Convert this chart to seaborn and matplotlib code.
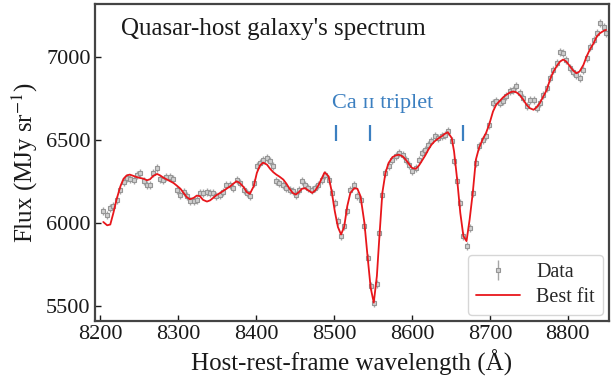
import numpy as np
import pandas as pd
import matplotlib
matplotlib.use("Agg")
import matplotlib.pyplot as plt
import seaborn as sns

# Observed spectrum (host rest frame) and best-fit model sampled on the same grid
wavelength = [
    8204, 8209, 8213, 8217, 8221, 8226, 8230, 8234, 8238, 8243, 8247, 8251, 8256, 8260, 8264, 8268,
    8273, 8277, 8281, 8285, 8290, 8294, 8298, 8303, 8307, 8311, 8315, 8320, 8324, 8328, 8332, 8337,
    8341, 8345, 8349, 8354, 8358, 8362, 8367, 8371, 8375, 8379, 8384, 8388, 8392, 8397, 8401, 8405,
    8409, 8414, 8418, 8422, 8426, 8430, 8435, 8439, 8443, 8447, 8451, 8455, 8459, 8463, 8467, 8472,
    8476, 8480, 8484, 8488, 8493, 8497, 8501, 8505, 8509, 8513, 8517, 8521, 8526, 8530, 8534, 8539,
    8543, 8547, 8551, 8555, 8558, 8562, 8566, 8570, 8575, 8579, 8583, 8588, 8592, 8596, 8600, 8605,
    8609, 8613, 8617, 8621, 8625, 8629, 8633, 8638, 8642, 8646, 8651, 8654, 8658, 8662, 8666, 8670,
    8674, 8678, 8682, 8686, 8691, 8695, 8699, 8704, 8708, 8713, 8717, 8721, 8726, 8730, 8734, 8738,
    8743, 8747, 8751, 8756, 8760, 8764, 8768, 8773, 8777, 8781, 8786, 8790, 8794, 8798, 8803, 8807,
    8811, 8815, 8820, 8824, 8828, 8833, 8837, 8841, 8846, 8849,
]
flux_data = [
    6070, 6045, 6092, 6100, 6140, 6200, 6244, 6270, 6265, 6260, 6285, 6300, 6250, 6230, 6230, 6300,
    6330, 6265, 6255, 6275, 6275, 6265, 6200, 6170, 6185, 6160, 6130, 6130, 6140, 6180, 6180, 6185,
    6180, 6180, 6160, 6170, 6185, 6230, 6230, 6210, 6260, 6240, 6200, 6180, 6160, 6240, 6340, 6360,
    6380, 6390, 6370, 6340, 6250, 6240, 6230, 6210, 6200, 6190, 6170, 6200, 6250, 6230, 6210, 6200,
    6210, 6230, 6260, 6290, 6260, 6180, 6120, 6010, 5920, 5980, 6070, 6200, 6230, 6160, 6140, 5980,
    5790, 5620, 5520, 5635, 5940, 6165, 6300, 6340, 6380, 6400, 6420, 6410, 6380, 6350, 6310, 6330,
    6380, 6420, 6440, 6470, 6490, 6520, 6510, 6520, 6530, 6550, 6490, 6370, 6250, 6120, 5920, 5860,
    5970, 6180, 6360, 6460, 6500, 6520, 6590, 6720, 6730, 6720, 6730, 6760, 6790, 6800, 6820, 6780,
    6750, 6700, 6740, 6740, 6690, 6720, 6770, 6810, 6870, 6920, 6960, 7030, 7020, 6980, 6930, 6910,
    6890, 6870, 6920, 6990, 7060, 7100, 7140, 7200, 7180, 7140,
]
flux_fit = [
    6005, 5985, 5990, 6060, 6140, 6220, 6265, 6285, 6290, 6282, 6275, 6270, 6265, 6256, 6262, 6282,
    6294, 6285, 6272, 6262, 6250, 6240, 6225, 6205, 6180, 6155, 6142, 6150, 6164, 6160, 6138, 6128,
    6135, 6150, 6166, 6180, 6192, 6205, 6220, 6236, 6250, 6240, 6215, 6185, 6174, 6220, 6300, 6345,
    6362, 6350, 6325, 6305, 6290, 6278, 6260, 6235, 6205, 6180, 6170, 6185, 6205, 6208, 6195, 6180,
    6195, 6225, 6265, 6304, 6280, 6190, 6070, 5975, 5930, 5975, 6100, 6180, 6208, 6205, 6160, 6000,
    5800, 5610, 5520, 5680, 5900, 6180, 6300, 6360, 6395, 6405, 6410, 6400, 6380, 6355, 6330, 6325,
    6345, 6375, 6405, 6440, 6470, 6490, 6505, 6520, 6535, 6545, 6510, 6430, 6260, 6060, 5920, 5890,
    6020, 6180, 6380, 6450, 6505, 6540, 6590, 6670, 6710, 6735, 6755, 6770, 6785, 6790, 6785, 6770,
    6740, 6710, 6690, 6680, 6695, 6720, 6755, 6800, 6860, 6905, 6945, 6970, 6982, 6970, 6940, 6915,
    6900, 6910, 6950, 7000, 7040, 7080, 7120, 7140, 7155, 7160,
]
flux_err = 24

# Ca II triplet line positions
ca_lines = [8503, 8546, 8665]

df = pd.DataFrame({"wavelength": wavelength, "data": flux_data, "fit": flux_fit})

sns.set_theme(style="ticks")
plt.rcParams["font.family"] = ["Liberation Serif", "DejaVu Serif"]
plt.rcParams["mathtext.fontset"] = "stix"

fig = plt.figure(figsize=(6.11, 3.85), dpi=100)
ax = fig.add_axes([0.155, 0.166, 0.842, 0.824])

ax.errorbar(df["wavelength"], df["data"], yerr=flux_err, fmt="s", ms=3,
            color="#a5a5a5", mfc="#cfcfcf", mec="#959595", mew=0.8,
            elinewidth=1.0, capsize=0, label="Data", zorder=2)
sns.lineplot(data=df, x="wavelength", y="fit", color="#e8161b", lw=1.3,
             label="Best fit", ax=ax, zorder=3)

ax.vlines(ca_lines, 6490, 6590, color="#3b7fc0", lw=1.6)
ax.text(8562, 6720, "Ca \u026a\u026a triplet", color="#3b7fc0", fontsize=16,
        ha="center", va="center")
ax.text(0.052, 0.92, "Quasar-host galaxy's spectrum", transform=ax.transAxes,
        fontsize=18, ha="left", va="center", color="#1a1a1a")

ax.set_xlim(8193, 8853)
ax.set_ylim(5409, 7317)
ax.set_xticks([8200, 8300, 8400, 8500, 8600, 8700, 8800])
ax.set_yticks([5500, 6000, 6500, 7000])
ax.tick_params(direction="in", length=4, width=1, labelsize=16, colors="#1a1a1a",
               pad=3)
for s in ax.spines.values():
    s.set_color("#444444")
    s.set_linewidth(1.6)

ax.set_xlabel("Host-rest-frame wavelength (\u00c5)", fontsize=18, color="#1a1a1a", labelpad=4)
ax.set_ylabel("Flux (MJy sr$^{-1}$)", fontsize=18, color="#1a1a1a", labelpad=4)

handles, labels = ax.get_legend_handles_labels()
order = [labels.index("Data"), labels.index("Best fit")]
leg = ax.legend([handles[i] for i in order], [labels[i] for i in order],
                loc="lower right", fontsize=14.5, frameon=True, fancybox=True,
                borderpad=0.4, handlelength=2.2, labelspacing=0.3,
                borderaxespad=0.3)
leg.get_frame().set_edgecolor("#cccccc")

fig.savefig("out.png", dpi=100)
